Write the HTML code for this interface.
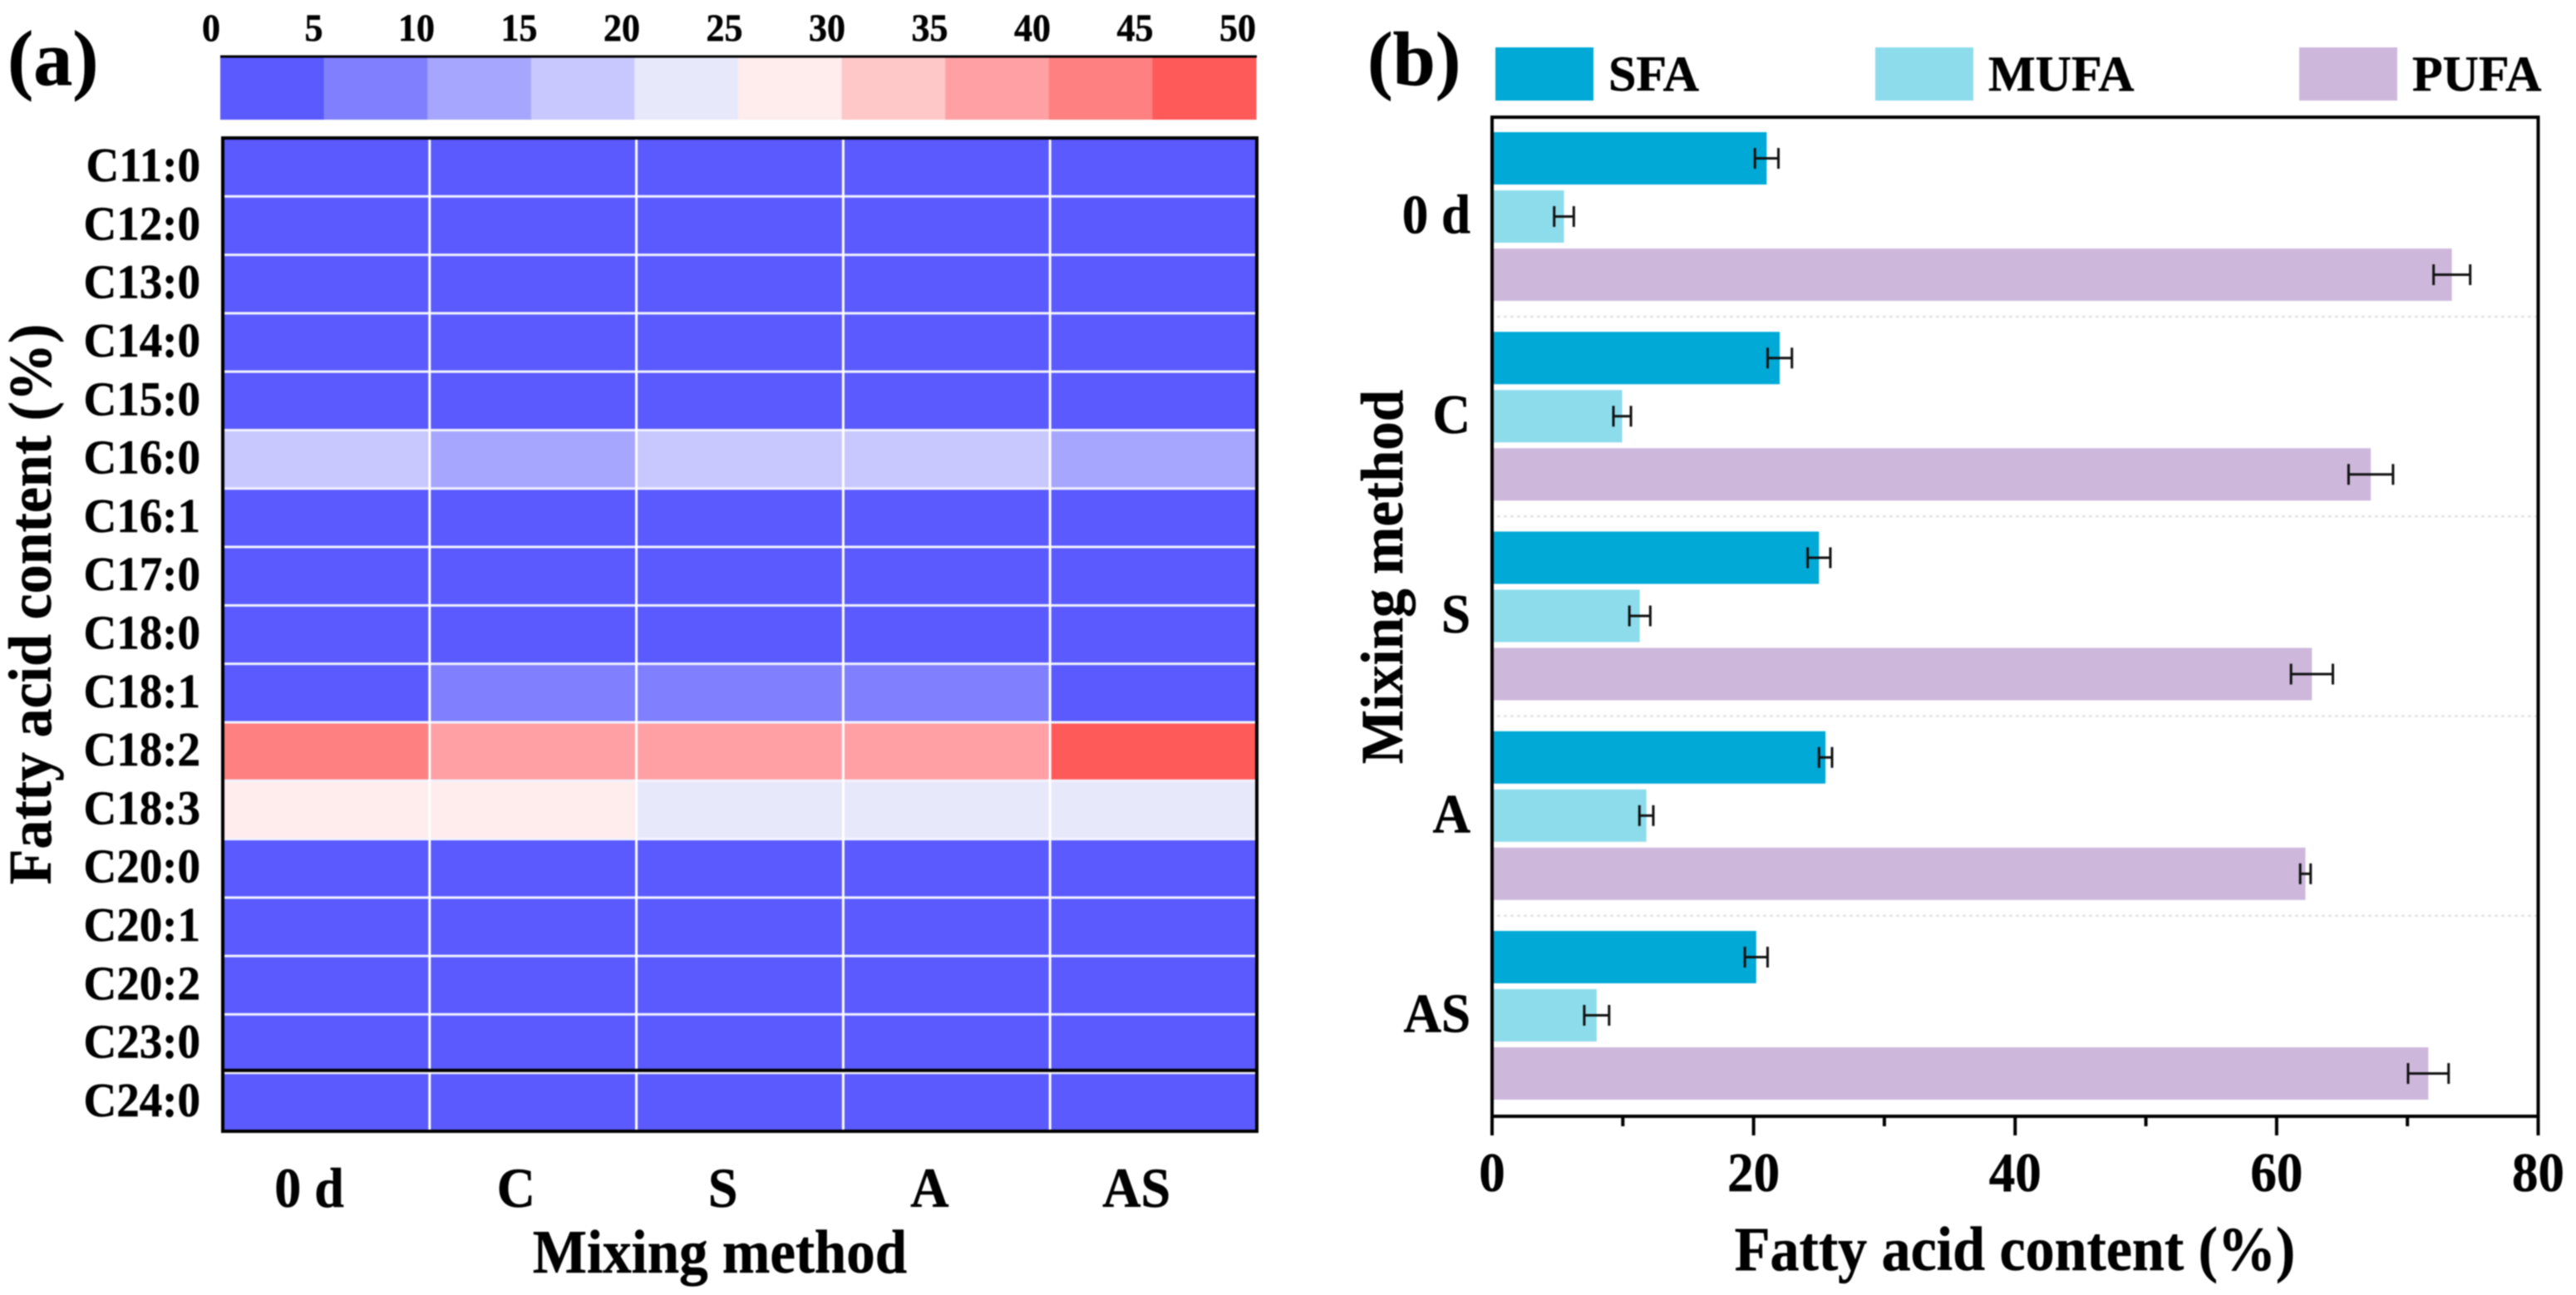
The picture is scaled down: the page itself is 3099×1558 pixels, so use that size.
<!DOCTYPE html>
<html lang="en">
<head>
<meta charset="utf-8">
<title>Fatty acid content heatmap and bar chart</title>
<style>
html,body{margin:0;padding:0;background:#fff;width:3099px;height:1558px;overflow:hidden}
svg{display:block;filter:blur(0.8px)}
text{font-family:"Liberation Serif","Times New Roman",serif;font-weight:bold;fill:#000;stroke:#000;stroke-width:0.5px}
</style>
</head>
<body>
<svg id="figure" xmlns="http://www.w3.org/2000/svg" width="3099" height="1558" viewBox="0 0 3099 1558">
  <rect x="0" y="0" width="3099" height="1558" fill="#fff"/>
  <text x="9" y="102" font-size="94">(a)</text>
  <text x="1645" y="102" font-size="92">(b)</text>
  <text transform="translate(866 1531) scale(1 1.08)" font-size="69" text-anchor="middle">Mixing method</text>
  <text transform="translate(61 727) rotate(-90) scale(1 1.05)" font-size="70" text-anchor="middle">Fatty acid content (%)</text>
  <text transform="translate(2424 1528) scale(1 1.08)" font-size="70" text-anchor="middle">Fatty acid content (%)</text>
  <text transform="translate(1687 694) rotate(-90) scale(1 1.05)" font-size="69" text-anchor="middle">Mixing method</text>
  <g id="colorbar"></g>
  <g id="heatmap"></g>
  <g id="barchart"></g>
  <g id="legend"></g>
</svg>
<script>
// ---- colour scale ----
const scaleTicks = [0, 5, 10, 15, 20, 25, 30, 35, 40, 45, 50];
const scaleColors = ['#5a5aff', '#8080ff', '#a6a6ff', '#c8c8ff', '#e8e8fb', '#ffecec', '#ffc8c8', '#ffa0a4', '#ff8080', '#ff5a5a'];

// ---- heatmap data ----
const methods = ['0 d', 'C', 'S', 'A', 'AS'];
const fattyAcids = ['C11:0', 'C12:0', 'C13:0', 'C14:0', 'C15:0', 'C16:0', 'C16:1', 'C17:0', 'C18:0', 'C18:1', 'C18:2', 'C18:3', 'C20:0', 'C20:1', 'C20:2', 'C23:0', 'C24:0'];
const contentC11 = [0.1, 0.1, 0.1, 0.1, 0.1];
const contentC12 = [0.1, 0.1, 0.1, 0.1, 0.1];
const contentC13 = [0.1, 0.1, 0.1, 0.1, 0.1];
const contentC14 = [0.3, 0.3, 0.3, 0.3, 0.3];
const contentC15 = [0.1, 0.1, 0.1, 0.1, 0.1];
const contentC160 = [16, 14, 17, 16, 14];
const contentC161 = [0.2, 0.2, 0.2, 0.2, 0.2];
const contentC17 = [0.2, 0.2, 0.2, 0.2, 0.2];
const contentC180 = [4, 4.5, 4.8, 4.7, 4];
const contentC181 = [4.8, 9, 9.5, 9.5, 4.5];
const contentC182 = [43, 38, 37, 38, 48];
const contentC183 = [28, 27, 24, 23, 23];
const contentC200 = [0.3, 0.3, 0.3, 0.3, 0.3];
const contentC201 = [0.2, 0.2, 0.2, 0.2, 0.2];
const contentC202 = [0.1, 0.1, 0.1, 0.1, 0.1];
const contentC23 = [0.1, 0.1, 0.1, 0.1, 0.1];
const contentC24 = [0.1, 0.1, 0.1, 0.1, 0.1];
const heatValues = [contentC11, contentC12, contentC13, contentC14, contentC15, contentC160, contentC161, contentC17, contentC180, contentC181, contentC182, contentC183, contentC200, contentC201, contentC202, contentC23, contentC24];

// ---- bar chart data ----
const barGroups = ['0 d', 'C', 'S', 'A', 'AS'];
const seriesNames = ['SFA', 'MUFA', 'PUFA'];
const seriesColors = ['#00a9d6', '#8ddcec', '#cdb8dc'];
const sfaValues = [21.0, 22.0, 25.0, 25.5, 20.2];
const mufaValues = [5.5, 9.95, 11.3, 11.8, 8.0];
const pufaValues = [73.4, 67.2, 62.7, 62.2, 71.6];
const sfaErrors = [0.9, 0.93, 0.87, 0.5, 0.87];
const mufaErrors = [0.75, 0.67, 0.8, 0.53, 0.95];
const pufaErrors = [1.4, 1.7, 1.6, 0.4, 1.55];
const barTicks = [0, 20, 40, 60, 80];
const barMinorTicks = [10, 30, 50, 70];

const NS = 'http://www.w3.org/2000/svg';
function make(parent, tag, attrs, txt) {
  const e = document.createElementNS(NS, tag);
  for (const k in attrs) e.setAttribute(k, attrs[k]);
  if (txt !== undefined) e.textContent = txt;
  parent.appendChild(e);
  return e;
}
function slug(s) { return String(s).toLowerCase().replace(/[^a-z0-9]+/g, '-'); }
const tallAt = (x, y) => 'translate(' + x + ' ' + y + ') scale(1 1.06)';

// ---- colour bar ----
const cb = document.getElementById('colorbar');
const cbLeft = 265, cbRight = 1511, cbTop = 67, cbBottom = 144;
const cbX = v => cbLeft + (cbRight - cbLeft) * (v - scaleTicks[0]) / (scaleTicks[scaleTicks.length - 1] - scaleTicks[0]);
const cbLabelX = v => 254 + (1489 - 254) * v / scaleTicks[scaleTicks.length - 1];
scaleColors.forEach((c, i) => {
  const r = make(cb, 'rect', { x: cbX(scaleTicks[i]), y: cbTop, width: cbX(scaleTicks[i + 1]) - cbX(scaleTicks[i]) + 0.5, height: cbBottom - cbTop, fill: c });
  
  
});
const cbLine = make(cb, 'line', { x1: cbLeft, x2: cbRight + 1, y1: cbTop + 1, y2: cbTop + 1, stroke: '#000', 'stroke-width': 3 });


scaleTicks.forEach(v => {
  const t = make(cb, 'text', { transform: tallAt(cbLabelX(v), 49), 'font-size': 44, 'text-anchor': 'middle' }, v);
  
  
});

// ---- heatmap ----
const hm = document.getElementById('heatmap');
const hmLeft = 268, hmRight = 1512, hmTop = 166, hmBottom = 1361;
const colW = (hmRight - hmLeft) / methods.length;
const rowH = (hmBottom - hmTop) / fattyAcids.length;
const hmX = i => hmLeft + colW * i;
const hmY = i => hmTop + rowH * i;
const colorFor = v => {
  let idx = scaleTicks.findIndex((t, i) => i < scaleColors.length && v >= t && v < scaleTicks[i + 1]);
  if (idx < 0) idx = v < scaleTicks[0] ? 0 : scaleColors.length - 1;
  return scaleColors[idx];
};
heatValues.forEach((row, r) => {
  row.forEach((v, c) => {
    const cell = make(hm, 'rect', { x: hmX(c), y: hmY(r), width: colW + 0.5, height: rowH + 0.5, fill: colorFor(v) });
    
    
  });
});
for (let r = 1; r < fattyAcids.length; r++) {
  const g = make(hm, 'line', { x1: hmLeft, x2: hmRight, y1: hmY(r), y2: hmY(r), stroke: '#f2f2ff', 'stroke-width': 3 });
  
  
}
for (let c = 1; c < methods.length; c++) {
  const g = make(hm, 'line', { x1: hmX(c), x2: hmX(c), y1: hmTop, y2: hmBottom, stroke: '#fff', 'stroke-width': 3 });
  
  
}
const divider = make(hm, 'line', { x1: hmLeft, x2: hmRight, y1: hmY(16) - 3, y2: hmY(16) - 3, stroke: '#000', 'stroke-width': 4 });


const hmFrame = make(hm, 'rect', { x: hmLeft, y: hmTop, width: hmRight - hmLeft, height: hmBottom - hmTop, fill: 'none', stroke: '#000', 'stroke-width': 4 });


fattyAcids.forEach((name, r) => {
  const t = make(hm, 'text', { transform: tallAt(241, hmY(r) + rowH / 2 + 17), 'font-size': 55, 'text-anchor': 'end' }, name);
  
  
});
methods.forEach((name, c) => {
  const t = make(hm, 'text', { transform: tallAt(372 + hmX(c) - hmX(0), 1452), 'font-size': 64, 'text-anchor': 'middle' }, name);
  
  
});

// ---- bar chart ----
const bc = document.getElementById('barchart');
const bLeft = 1795, bRight = 3053.5, bTop = 141, bBottom = 1343;
const xMax = barTicks[barTicks.length - 1];
const bX = v => bLeft + (bRight - bLeft) * v / xMax;
const groupPitch = 240.25, barH = 63, barPitch = 70, firstBar = 159;
const barY = (g, s) => firstBar + groupPitch * g + barPitch * s;
const seriesValues = [sfaValues, mufaValues, pufaValues];
const seriesErrors = [sfaErrors, mufaErrors, pufaErrors];

for (let g = 0; g < barGroups.length - 1; g++) {
  const y = barY(g, 2) + barH + 19;
  const d = make(bc, 'line', { x1: bLeft + 6, x2: bRight, y1: y, y2: y, stroke: '#e4e4e4', 'stroke-width': 2.5, 'stroke-dasharray': '4 4' });
  
  
}
barGroups.forEach((name, g) => {
  seriesValues.forEach((vals, s) => {
    const bar = make(bc, 'rect', { x: bLeft, y: barY(g, s), width: bX(vals[g]) - bLeft, height: barH, fill: seriesColors[s] });
    
    
    const err = seriesErrors[s][g];
    const cy = barY(g, s) + barH / 2;
    const capH = 12.5;
    const dAttr = 'M' + bX(vals[g] - err) + ' ' + (cy - capH) + 'V' + (cy + capH) +
                  'M' + bX(vals[g] + err) + ' ' + (cy - capH) + 'V' + (cy + capH) +
                  'M' + bX(vals[g] - err) + ' ' + cy + 'H' + bX(vals[g] + err);
    const eb = make(bc, 'path', { d: dAttr, fill: 'none', stroke: '#111', 'stroke-width': 3 });
    
    
  });
  const lab = make(bc, 'text', { transform: tallAt(1769, barY(g, 0) + (barPitch * 2 + barH) / 2 + 20), 'font-size': 63, 'text-anchor': 'end' }, name);
  
  
});
const bFrame = make(bc, 'rect', { x: bLeft, y: bTop, width: bRight - bLeft, height: bBottom - bTop, fill: 'none', stroke: '#000', 'stroke-width': 4 });


barTicks.forEach(v => {
  const tk = make(bc, 'line', { x1: bX(v), x2: bX(v), y1: bBottom, y2: 1366, stroke: '#000', 'stroke-width': 4 });
  
  
  const t = make(bc, 'text', { transform: tallAt(bX(v), 1433), 'font-size': 63, 'text-anchor': 'middle' }, v);
  
  
});
barMinorTicks.forEach(v => {
  const tk = make(bc, 'line', { x1: bX(v), x2: bX(v), y1: bBottom, y2: 1355, stroke: '#000', 'stroke-width': 4 });
  
  
});

// ---- legend ----
const lg = document.getElementById('legend');
const legendStart = [1799, 2256, 2766];
seriesNames.forEach((name, s) => {
  const sw = make(lg, 'rect', { x: legendStart[s], y: 57, width: 118, height: 64, fill: seriesColors[s] });
  
  
  const t = make(lg, 'text', { x: legendStart[s] + 136, y: 109, 'font-size': 60 }, name);
  
  
});
</script>
</body>
</html>
